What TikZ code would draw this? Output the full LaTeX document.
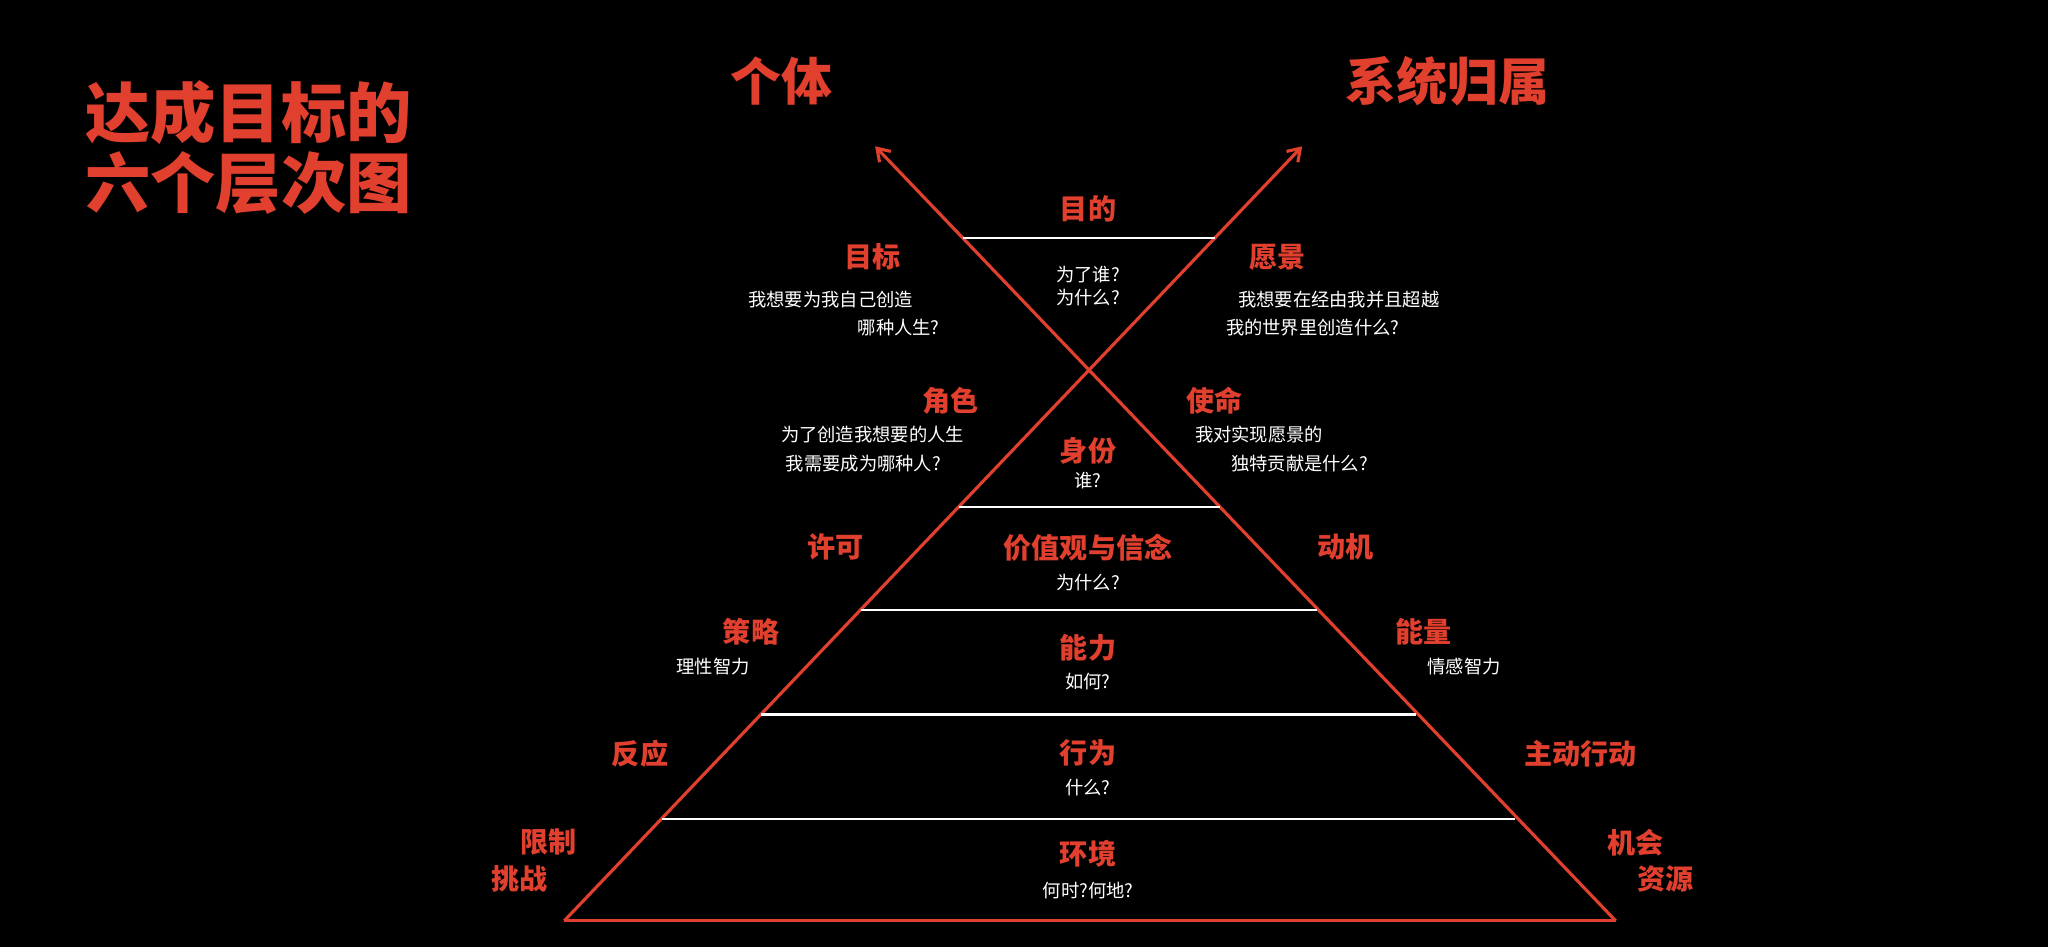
\documentclass[tikz,border=0pt]{standalone}
\usepackage{fontspec}
\setmainfont{Noto Sans CJK SC}
\usetikzlibrary{arrows.meta}
\definecolor{redc}{HTML}{E2402F}
\tikzset{
 ln/.style={draw=redc,line width=2.4pt},
 arr/.style={ln,-{Straight Barb[length=9pt,width=12pt]}},
 lab/.style={text=redc,font=\fontsize{21.5}{24}\selectfont\bfseries,inner sep=0pt},
 sub/.style={text=white,font=\fontsize{14}{16}\selectfont,inner sep=0pt},
 big/.style={text=redc,font=\fontsize{39}{42}\selectfont\bfseries,inner sep=0pt},
 ttl/.style={text=redc,font=\fontsize{50}{56}\selectfont\bfseries,inner sep=0pt,anchor=west}
}
\begin{document}
\begin{tikzpicture}[x=1pt,y=-1pt]
\fill[black] (0,0) rectangle (1568,725);
\useasboundingbox (0,0) rectangle (1568,725);
\coordinate (BL) at (432,705); \coordinate (BR) at (1237,705);
\coordinate (TL) at (670,112); \coordinate (TR) at (997,112);
\draw[arr] (BL) -- (TR);
\draw[arr] (BR) -- (TL);
\draw[ln] (BL) -- (BR);
\coordinate (a1) at (737,182); \coordinate (a2) at (930,182);
\coordinate (b1) at (734,388); \coordinate (b2) at (934,388);
\coordinate (c1) at (659,467); \coordinate (c2) at (1008,467);
\coordinate (d1) at (583,547); \coordinate (d2) at (1084,547);
\coordinate (e1) at (507,627); \coordinate (e2) at (1160,627);
\foreach \p in {a,b,c,d,e}{\draw[white,line width=1.6pt] (\p1) -- (\p2);}
\node[ttl] (t1) at (65,86) {达成目标的};
\node[ttl] (t2) at (65,140) {六个层次图};
\node[big] (g1) at (598,62) {个体};
\node[big] (g2) at (1108,62) {系统归属};
\node[lab] (n1) at (833,160) {目的};
\node[sub] (n1a) at (833,210) {为了谁?};
\node[sub] (n1b) at (833,228) {为什么?};
\node[lab] (n2) at (668,197) {目标};
\node[sub] (n2a) at (636,229) {我想要为我自己创造};
\node[sub] (n2b) at (688,251) {哪种人生?};
\node[lab] (n3) at (978,197) {愿景};
\node[sub] (n3a) at (1025,229) {我想要在经由我并且超越};
\node[sub] (n3b) at (1005,251) {我的世界里创造什么?};
\node[lab] (n4) at (728,307) {角色};
\node[sub] (n4a) at (668,333) {为了创造我想要的人生};
\node[sub] (n4b) at (661,355) {我需要成为哪种人?};
\node[lab] (n5) at (930,307) {使命};
\node[sub] (n5a) at (964,333) {我对实现愿景的};
\node[sub] (n5b) at (995,355) {独特贡献是什么?};
\node[lab] (n6) at (833,345) {身份};
\node[sub] (n6a) at (833,368) {谁?};
\node[lab] (n7) at (640,419) {许可};
\node[lab] (n8) at (833,419) {价值观与信念};
\node[sub] (n8a) at (833,446) {为什么?};
\node[lab] (n9) at (1030,419) {动机};
\node[lab] (n10) at (575,484) {策略};
\node[sub] (n10a) at (546,510) {理性智力};
\node[lab] (n11) at (833,496) {能力};
\node[sub] (n11a) at (833,522) {如何?};
\node[lab] (n12) at (1090,484) {能量};
\node[sub] (n12a) at (1121,510) {情感智力};
\node[lab] (n13) at (490,577) {反应};
\node[lab] (n14) at (833,576) {行为};
\node[sub] (n14a) at (833,603) {什么?};
\node[lab] (n15) at (1210,577) {主动行动};
\node[lab] (n16) at (420,645) {限制};
\node[lab] (n16a) at (398,673) {挑战};
\node[lab] (n17) at (833,654) {环境};
\node[sub] (n17a) at (833,682) {何时?何地?};
\node[lab] (n18) at (1252,645) {机会};
\node[lab] (n18a) at (1275,673) {资源};
\end{tikzpicture}
\end{document}
